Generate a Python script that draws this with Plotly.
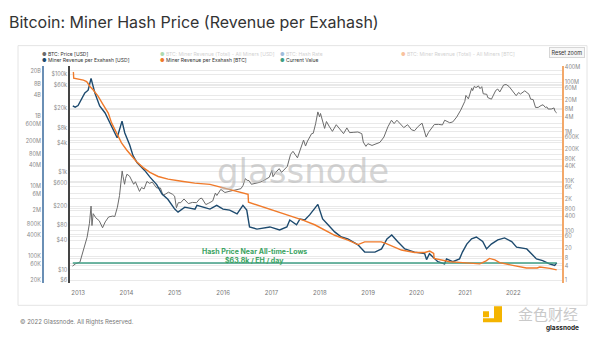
import plotly.graph_objects as go

W, H = 600, 340
def px(x): return x / W
def py(y): return 1 - y / H

# ---------------- data ----------------
price_dates = ['2012-11-20','2012-12-15','2013-01-15','2013-02-01','2013-02-20','2013-03-10','2013-03-28','2013-04-09','2013-04-16','2013-04-25','2013-05-15','2013-06-10','2013-07-05','2013-07-25','2013-08-20','2013-09-20','2013-10-05','2013-10-25','2013-11-10','2013-11-30','2013-12-07','2013-12-18','2013-12-26','2014-01-05','2014-01-25','2014-02-10','2014-02-25','2014-03-10','2014-04-10','2014-04-25','2014-05-15','2014-06-05','2014-06-25','2014-07-15','2014-08-18','2014-09-15','2014-10-05','2014-10-25','2014-11-15','2014-12-15','2014-12-31','2015-01-14','2015-01-28','2015-02-15','2015-03-12','2015-04-14','2015-05-15','2015-06-15','2015-07-10','2015-07-25','2015-08-24','2015-09-15','2015-10-15','2015-11-04','2015-11-15','2015-12-15','2016-01-15','2016-02-15','2016-03-15','2016-04-15','2016-05-15','2016-05-31','2016-06-17','2016-07-01','2016-07-15','2016-08-02','2016-08-31','2016-09-30','2016-10-25','2016-11-15','2016-12-15','2017-01-04','2017-01-12','2017-01-31','2017-02-28','2017-03-18','2017-03-31','2017-04-30','2017-05-25','2017-06-12','2017-07-16','2017-08-01','2017-08-31','2017-09-15','2017-09-30','2017-10-31','2017-11-12','2017-11-30','2017-12-17','2017-12-30','2018-01-06','2018-02-06','2018-02-20','2018-03-15','2018-04-06','2018-05-05','2018-06-15','2018-06-29','2018-07-24','2018-08-14','2018-09-15','2018-10-15','2018-11-14','2018-11-25','2018-12-15','2018-12-30','2019-01-30','2019-02-28','2019-03-31','2019-04-30','2019-05-30','2019-06-26','2019-07-16','2019-08-06','2019-09-01','2019-09-27','2019-10-26','2019-11-25','2019-12-17','2020-01-14','2020-02-12','2020-03-14','2020-04-01','2020-04-30','2020-05-15','2020-06-15','2020-07-15','2020-08-01','2020-09-08','2020-10-01','2020-10-31','2020-11-30','2020-12-31','2021-01-08','2021-01-27','2021-02-21','2021-02-28','2021-03-13','2021-03-25','2021-04-13','2021-04-25','2021-05-08','2021-05-19','2021-06-15','2021-06-22','2021-07-20','2021-08-22','2021-09-06','2021-09-21','2021-10-20','2021-11-08','2021-11-30','2021-12-18','2022-01-23','2022-02-10','2022-02-24','2022-03-29','2022-04-30','2022-05-12','2022-05-31','2022-06-18','2022-07-08','2022-07-30','2022-08-14','2022-08-31','2022-09-12','2022-09-21','2022-10-15','2022-11-05','2022-11-12','2022-11-25']
price_usd = [11.8,13.3,14.2,20.4,29.5,46,89,200,80,140,115,100,72,95,120,125,122,190,330,1050,800,560,740,900,820,680,560,630,400,480,450,640,585,620,470,470,330,355,385,350,320,185,235,235,280,225,238,235,285,290,215,230,255,370,330,440,380,400,415,430,455,530,730,675,665,560,575,610,650,710,780,1080,800,970,1170,980,1070,1300,2300,2650,1950,2700,4500,3400,4300,6100,6200,9700,17000,13500,15800,7800,10800,8400,6800,9300,6500,6100,8000,6400,6500,6600,6100,4100,3350,3800,3500,3800,4050,5200,8400,11500,9800,11500,9700,8100,9300,7300,7000,8600,10000,5200,6500,8600,9400,9450,9200,11500,10200,10600,13400,18500,28000,37000,31500,52000,46500,57000,53500,58000,51000,56000,40000,39000,33500,31000,47000,50000,43500,60500,62000,56500,48000,36500,42500,39500,46000,39000,31000,30500,21000,21000,23000,23800,21000,21500,19500,19500,20500,17500,16200]

usd_rev_dates = ['2012-11-22','2012-12-10','2013-01-01','2013-02-21','2013-03-18','2013-04-09','2013-05-08','2013-06-13','2013-07-24','2013-09-13','2013-10-23','2013-11-29','2013-12-20','2014-01-26','2014-02-20','2014-03-22','2014-05-19','2014-06-28','2014-08-18','2014-09-27','2014-11-10','2015-01-01','2015-01-26','2015-03-18','2015-06-03','2015-06-18','2015-07-31','2015-09-24','2015-11-14','2016-01-01','2016-02-20','2016-04-16','2016-05-30','2016-06-28','2016-07-19','2016-09-13','2016-12-20','2017-03-03','2017-04-27','2017-05-19','2017-07-09','2017-08-04','2017-09-09','2017-10-16','2017-12-17','2018-01-22','2018-03-04','2018-04-23','2018-06-13','2018-07-31','2018-10-16','2018-12-06','2019-02-21','2019-04-12','2019-05-23','2019-06-28','2019-08-11','2019-10-05','2019-12-17','2020-03-03','2020-03-17','2020-04-08','2020-06-10','2020-07-31','2020-08-15','2020-10-01','2020-11-21','2020-12-13','2021-01-15','2021-02-20','2021-03-28','2021-05-15','2021-06-13','2021-07-19','2021-09-06','2021-10-27','2021-12-20','2022-01-26','2022-04-13','2022-05-19','2022-06-25','2022-08-11','2022-10-01','2022-11-10','2022-11-25']
usd_rev_per_eh = [1.95e9,1.8e9,2.0e9,4.6e9,5.5e9,1.2e10,4.6e9,1.95e9,1.23e9,5.2e8,2.4e8,7.2e8,3.3e8,1.5e8,7.4e7,4.7e7,2.8e7,1.8e7,1.1e7,5.9e6,4.2e6,2.2e6,1.8e6,2.5e6,2.2e6,2.8e6,2.5e6,2.2e6,2.8e6,2.2e6,2.05e6,1.6e6,2.8e6,2.05e6,6.8e5,5.9e5,6.8e5,5.6e5,6.8e5,1.07e6,7.8e5,1.15e6,1.07e6,1.5e6,3.0e6,1.15e6,7.8e5,4.9e5,3.5e5,3.1e5,2.1e5,1.3e5,1.3e5,1.6e5,3.1e5,4.0e5,2.6e5,1.6e5,1.3e5,1.17e5,7.9e4,1.17e5,6.9e4,6.0e4,8.3e4,6.9e4,8.3e4,1.3e5,2.2e5,3.1e5,3.5e5,2.6e5,1.6e5,2.2e5,2.9e5,3.3e5,2.6e5,1.8e5,1.6e5,1.17e5,8.3e4,7.4e4,6.0e4,5.4e4,6.38e4]

btc_rev_dates = ['2012-11-22','2012-11-27','2012-11-29','2013-01-03','2013-02-10','2013-03-07','2013-04-01','2013-04-26','2013-06-02','2013-07-10','2013-08-17','2013-09-11','2013-10-19','2013-11-25','2014-01-03','2014-02-10','2014-03-19','2014-05-08','2014-06-28','2014-08-29','2014-11-12','2015-02-22','2015-06-01','2015-09-24','2016-02-20','2016-07-08','2016-07-11','2017-01-10','2017-05-19','2017-08-26','2017-11-23','2018-02-07','2018-04-23','2018-08-01','2018-10-16','2018-12-06','2019-04-10','2019-05-18','2019-09-09','2019-12-18','2020-03-04','2020-04-10','2020-05-10','2020-05-13','2020-07-31','2020-09-09','2020-11-21','2021-03-03','2021-04-23','2021-06-10','2021-07-05','2021-08-15','2021-09-20','2021-12-28','2022-04-10','2022-07-01','2022-07-20','2022-10-05','2022-11-10','2022-11-25']
btc_rev_per_eh = [2.5e8,2.45e8,1.45e8,1.32e8,1.23e8,1.07e8,6.8e7,4.9e7,2.7e7,1.23e7,5.75e6,2.3e6,9.1e5,3.6e5,1.86e5,1.07e5,6.2e4,3.6e4,2.3e4,1.58e4,1.23e4,1.02e4,8500,7600,4800,3000,1450,690,440,275,178,107,67,42.5,28.2,36.3,36.3,31,17,13.5,13.5,15.5,12.5,7.8,6.3,5.75,5.4,4.9,4.7,6.2,7.8,6.8,5.25,4.1,3.2,3.2,3.5,3.1,2.9,2.7]

current_value = 63800

year_ticks = ['2013-01-01','2014-01-01','2015-01-01','2016-01-01','2017-01-01','2018-01-01','2019-01-01','2020-01-01','2021-01-01','2022-01-01']
year_labels = ['2013','2014','2015','2016','2017','2018','2019','2020','2021','2022']
price_tickvals = [6,10,40,80,200,600,1000,4000,8000,20000,60000,100000]
price_ticktext = ['$6','$10','$40','$80','$200','$600','$1k','$4k','$8k','$20k','$60k','$100k']
usd_tickvals = [2e4,6e4,1e5,4e5,8e5,2e6,6e6,1e7,4e7,8e7,2e8,6e8,1e9,4e9,8e9,2e10]
usd_ticktext = ['20K','60K','100K','400K','800K','2M','6M','10M','40M','80M','200M','600M','1B','4B','8B','20B']
btc_tickvals = [1,4,8,20,60,100,400,800,2e3,6e3,1e4,4e4,8e4,2e5,6e5,1e6,4e6,8e6,2e7,6e7,1e8,4e8]
btc_ticktext = ['1','4','8','20','60','100','400','800','2K','6K','10K','40K','80K','200K','600K','1M','4M','8M','20M','60M','100M','400M']

C_PRICE = '#6b6b6b'
C_USD = '#1d4a6e'
C_BTC = '#f07a2a'
C_CUR = '#3f9e84'
FONT = 'Inter, Roboto, sans-serif'

fig = go.Figure()
fig.add_trace(go.Scatter(x=price_dates, y=price_usd, mode='lines', yaxis='y',
                         line=dict(color=C_PRICE, width=1), name='BTC: Price [USD]'))
fig.add_trace(go.Scatter(x=usd_rev_dates, y=usd_rev_per_eh, mode='lines', yaxis='y2',
                         line=dict(color=C_USD, width=1.4), name='Miner Revenue per Exahash [USD]'))
fig.add_trace(go.Scatter(x=btc_rev_dates, y=btc_rev_per_eh, mode='lines', yaxis='y3',
                         line=dict(color=C_BTC, width=1.4), name='Miner Revenue per Exahash [BTC]'))
fig.add_trace(go.Scatter(x=[usd_rev_dates[0], usd_rev_dates[-1]], y=[current_value, current_value],
                         mode='lines', yaxis='y2', line=dict(color=C_CUR, width=1.5), name='Current Value'))

dom_y = [py(283), py(65)]
tickfont = dict(size=5.5, color='#8a8a8a', family=FONT)
grid = '#e9e9e9'

fig.update_layout(
    width=W, height=H, margin=dict(l=0, r=0, t=0, b=0),
    paper_bgcolor='white', plot_bgcolor='rgba(0,0,0,0)',
    showlegend=False, hovermode=False,
    font=dict(family=FONT),
    xaxis=dict(domain=[px(70), px(562)], type='date', range=['2012-11-01', '2023-01-04'],
               tickvals=year_ticks, ticktext=year_labels, showgrid=False, zeroline=False,
               showline=False, ticks='', ticklabelstandoff=5,
               tickfont=dict(size=6, color='#777', family=FONT)),
    yaxis=dict(domain=dom_y, type='log', range=[0.736, 5.1624], tickvals=price_tickvals,
               ticktext=price_ticktext, showline=True, linecolor='#444', linewidth=1.5,
               showgrid=True, gridcolor=grid, gridwidth=1, ticks='', tickfont=tickfont,
               zeroline=False, anchor='x', side='left'),
    yaxis2=dict(domain=dom_y, type='log', range=[4.2443, 10.42], tickvals=usd_tickvals,
                ticktext=usd_ticktext, overlaying='y', anchor='free', position=px(43), side='left',
                showline=True, linecolor='#6a8fb5', linewidth=2, showgrid=True, gridcolor=grid,
                ticks='', tickfont=tickfont, zeroline=False),
    yaxis3=dict(domain=dom_y, type='log', range=[-0.08, 8.64], tickvals=btc_tickvals,
                ticktext=btc_ticktext, overlaying='y', anchor='x', side='right',
                showline=True, linecolor='#f3a86a', linewidth=1.5, showgrid=True, gridcolor=grid,
                ticks='', tickfont=tickfont, zeroline=False),
)

# card
fig.add_shape(type='rect', xref='paper', yref='paper', x0=px(18), x1=px(587), y0=py(306), y1=py(44),
              line=dict(color='#e4e4e4', width=1), fillcolor='white', layer='below')

ann = []
ann.append(dict(x=px(7), y=py(20), text='Bitcoin: Miner Hash Price (Revenue per Exahash)',
                font=dict(size=16, color='#333', family=FONT), xanchor='left', yanchor='middle'))
legend_items = [
    (40, 52, C_PRICE, 'BTC: Price [USD]', True),
    (158, 52, '#4caf50', 'BTC: Miner Revenue (Total) - All Miners [USD]', False),
    (278, 52, '#2f6fb0', 'BTC: Hash Rate', False),
    (399, 52, C_BTC, 'BTC: Miner Revenue (Total) - All Miners [BTC]', False),
    (40, 58.5, C_USD, 'Miner Revenue per Exahash [USD]', True),
    (158, 58.5, C_BTC, 'Miner Revenue per Exahash [BTC]', True),
    (278, 58.5, C_CUR, 'Current Value', True),
]
for lx, ly, col, lab, active in legend_items:
    ann.append(dict(x=px(lx), y=py(ly), xanchor='left', yanchor='middle',
                    text=f"<span style='color:{col}'>●</span> {lab}",
                    font=dict(size=5, color='#333' if active else '#999', family=FONT),
                    opacity=1 if active else 0.45))
ann.append(dict(x=px(567), y=py(51), text='Reset zoom', font=dict(size=5.5, color='#333', family=FONT),
                bgcolor='#f7f7f7', bordercolor='#d6d6d6', borderwidth=1, borderpad=1.5,
                xanchor='center', yanchor='middle'))
ann.append(dict(x=px(303), y=py(171), text='glassnode', font=dict(size=34, color='rgba(185,185,185,0.6)', family='DejaVu Sans'),
                xanchor='center', yanchor='middle'))
ann.append(dict(x=px(254), y=py(252), text='<b>Hash Price Near All-time-Lows</b>',
                font=dict(size=7, color='#3aa35f', family=FONT), xanchor='center', yanchor='middle'))
ann.append(dict(x=px(254), y=py(261), text='<b>$63.8k / EH / day</b>',
                font=dict(size=7, color='#3aa35f', family=FONT), xanchor='center', yanchor='middle'))
ann.append(dict(x=px(18), y=py(323), text='© 2022 Glassnode. All Rights Reserved.',
                font=dict(size=6, color='#777', family=FONT), xanchor='left', yanchor='middle'))
ann.append(dict(x=px(548), y=py(314), text='金色财经',
                font=dict(size=15, color='#c9c9c9', family='Noto Sans CJK SC'), xanchor='center', yanchor='middle'))
ann.append(dict(x=px(562), y=py(329), text='<b>glassnode</b>',
                font=dict(size=6.5, color='#222', family=FONT), xanchor='center', yanchor='middle'))
for a in ann:
    a.setdefault('xref', 'paper'); a.setdefault('yref', 'paper'); a['showarrow'] = False
fig.update_layout(annotations=ann)

# logo icon
fig.add_shape(type='rect', xref='paper', yref='paper', x0=px(483), x1=px(489), y0=py(318), y1=py(312),
              line=dict(width=0), fillcolor='#f4b400')
fig.add_shape(type='path', xref='paper', yref='paper',
              path=f'M {px(494)} {py(307)} L {px(502)} {py(307)} L {px(502)} {py(323)} L {px(483)} {py(323)} L {px(483)} {py(319)} L {px(494)} {py(319)} Z',
              line=dict(width=0), fillcolor='#f4b400')

fig.write_html('out.html')
